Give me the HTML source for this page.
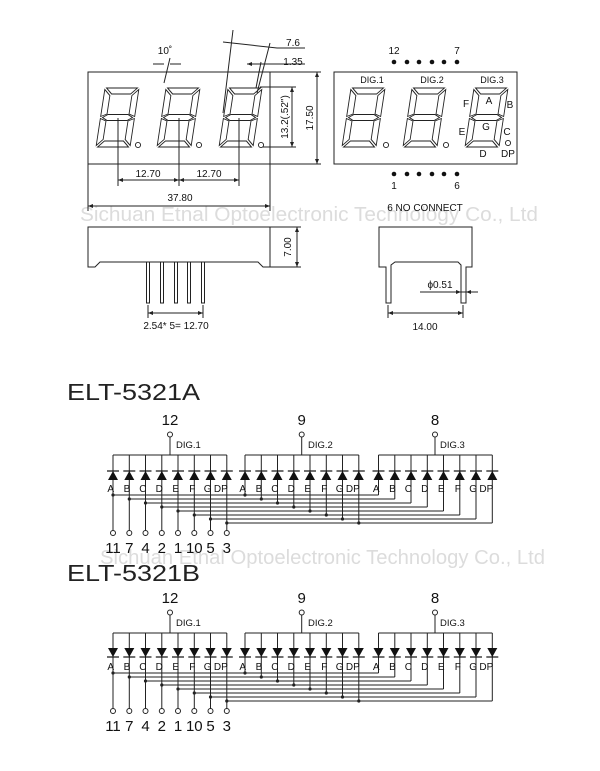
<!DOCTYPE html>
<html><head><meta charset="utf-8"><style>
html,body{margin:0;padding:0;background:#fff;}
svg{display:block;font-family:"Liberation Sans",sans-serif;}
</style></head><body>
<svg width="600" height="771" viewBox="0 0 600 771" xmlns="http://www.w3.org/2000/svg">
<defs>
<g id="dig" fill="none" stroke="#222" stroke-width="0.9">
<polygon points="1.5,-59 32.5,-59 26.5,-53 7.5,-53"/>
<polygon points="1.5,0 32.5,0 26.5,-6 7.5,-6"/>
<polygon points="2,-29.5 7,-32.5 27,-32.5 32,-29.5 27,-26.5 7,-26.5"/>
<polygon points="0,-57.5 6,-51.5 6,-33 0,-30.5"/>
<polygon points="0,-28.5 6,-26 6,-7.5 0,-1.5"/>
<polygon points="34,-57.5 34,-30.5 28,-33 28,-51.5"/>
<polygon points="34,-28.5 34,-1.5 28,-7.5 28,-26"/>
</g>
<g id="dA"><path d="M-5 480L5 480L0 471Z" fill="#111"/><path d="M-6 471H6" stroke="#111" stroke-width="1.2"/></g>
<g id="dB"><path d="M-5 470L5 470L0 479Z" fill="#111"/><path d="M-6 479H6" stroke="#111" stroke-width="1.2"/></g>
<g id="wires" fill="none" stroke="#222" stroke-width="1">
<path d="M113 455V530.5M129.3 455V530.5M145.5 455V530.5M161.8 455V530.5M178 455V530.5M194.3 455V530.5M210.5 455V530.5M226.8 455V530.5"/>
<path d="M245 455V495M261.3 455V499M277.5 455V503M293.8 455V507M310 455V511M326.3 455V515M342.5 455V519M358.8 455V523"/>
<path d="M378.5 455V495M394.8 455V499M411 455V503M427.3 455V507M443.5 455V511M459.8 455V515M476 455V519M492.3 455V523"/>
<path d="M113 495H378.5M129.3 499H394.8M145.5 503H411M161.8 507H427.3M178 511H443.5M194.3 515H459.8M210.5 519H476M226.8 523H492.3"/>
<path d="M113 455H226.8M245 455H358.8M378.5 455H492.3M170 437V455M301.7 437V455M435 437V455"/>
<g fill="#fff"><circle cx="170" cy="434.5" r="2.5"/><circle cx="301.7" cy="434.5" r="2.5"/><circle cx="435" cy="434.5" r="2.5"/>
<circle cx="113" cy="533" r="2.5"/><circle cx="129.3" cy="533" r="2.5"/><circle cx="145.5" cy="533" r="2.5"/><circle cx="161.8" cy="533" r="2.5"/><circle cx="178" cy="533" r="2.5"/><circle cx="194.3" cy="533" r="2.5"/><circle cx="210.5" cy="533" r="2.5"/><circle cx="226.8" cy="533" r="2.5"/></g>
<g fill="#222" stroke="none"><circle cx="113" cy="495" r="1.6"/><circle cx="129.3" cy="499" r="1.6"/><circle cx="145.5" cy="503" r="1.6"/><circle cx="161.8" cy="507" r="1.6"/><circle cx="178" cy="511" r="1.6"/><circle cx="194.3" cy="515" r="1.6"/><circle cx="210.5" cy="519" r="1.6"/><circle cx="226.8" cy="523" r="1.6"/>
<circle cx="245" cy="495" r="1.6"/><circle cx="261.3" cy="499" r="1.6"/><circle cx="277.5" cy="503" r="1.6"/><circle cx="293.8" cy="507" r="1.6"/><circle cx="310" cy="511" r="1.6"/><circle cx="326.3" cy="515" r="1.6"/><circle cx="342.5" cy="519" r="1.6"/><circle cx="358.8" cy="523" r="1.6"/></g>
</g>
</defs>

<!-- watermarks -->
<text x="80" y="221" font-size="20" fill="#dcdcdc" textLength="458" lengthAdjust="spacingAndGlyphs">Sichuan Etnal Optoelectronic Technology Co., Ltd</text>
<text x="100" y="564" font-size="20" fill="#dcdcdc" textLength="445" lengthAdjust="spacingAndGlyphs">Sichuan Etnal Optoelectronic Technology Co., Ltd</text>

<g fill="none" stroke="#222" stroke-width="1">
<rect x="88" y="72" width="182" height="92"/>
<path d="M118 118V186M179 118V186M239 118V186M118 180H239M88 164V211M270 164V211M88 206H270"/>
<path d="M260 87H296M260 147H296M292 87V147M270 72H321M270 164H321M317 72V164"/>
<path d="M233 30L223 113M270 43L257 93M261 62L256 88M223 42L277 48H305M247 64H305M170 58L164 83M153 64L164 64M170 64L181 64"/>
</g>
<g fill="#222">
<path d="M118 180l5-2v4zM179 180l-5-2v4zM179 180l5-2v4zM239 180l-5-2v4zM88 206l5-2v4zM270 206l-5-2v4zM292 87l-2 5h4zM292 147l-2-5h4zM317 72l-2 5h4zM317 164l-2-5h4zM247 64l5-2v4z"/>
</g>
<use href="#dig" transform="translate(96,147) skewX(-8.7)"/>
<use href="#dig" transform="translate(157,147) skewX(-8.7)"/>
<use href="#dig" transform="translate(219,147) skewX(-8.7)"/>
<g fill="#fff" stroke="#222" stroke-width="0.9"><circle cx="138" cy="145" r="2.6"/><circle cx="199" cy="145" r="2.6"/><circle cx="261" cy="145" r="2.6"/></g>
<g font-size="10" fill="#111">
<text x="165" y="54" text-anchor="middle">10˚</text>
<text x="293" y="46" text-anchor="middle">7.6</text>
<text x="293" y="65" text-anchor="middle">1.35</text>
<text x="148" y="177" text-anchor="middle">12.70</text>
<text x="209" y="177" text-anchor="middle">12.70</text>
<text x="180" y="201" text-anchor="middle">37.80</text>
<text transform="translate(288,117) rotate(-90)" text-anchor="middle">13.2(.52")</text>
<text transform="translate(313,118) rotate(-90)" text-anchor="middle">17.50</text>
<text transform="translate(291,247) rotate(-90)" text-anchor="middle">7.00</text>
<text x="176" y="329" text-anchor="middle">2.54* 5= 12.70</text>
</g>
<g fill="none" stroke="#222" stroke-width="1">
<polygon points="88,227 270,227 270,267 263,267 258,262 100,262 95,267 88,267"/>
<path d="M270 227H301M270 267H301M297 227V267"/>
<path d="M146.5 262V303H149.5V262M160.5 262V303H163.5V262M174.5 262V303H177.5V262M187.5 262V303H190.5V262M201.5 262V303H204.5V262"/>
<path d="M148 305V318M203 305V318M148 313H203"/>
</g>
<g fill="#222"><path d="M297 227l-2 5h4zM297 267l-2-5h4zM148 313l5-2v4zM203 313l-5-2v4z"/></g>

<rect x="334" y="72" width="183" height="92" fill="none" stroke="#222" stroke-width="1"/>
<use href="#dig" transform="translate(342,147) skewX(-8.7)"/>
<use href="#dig" transform="translate(403,147) skewX(-8.7)"/>
<use href="#dig" transform="translate(465,147) skewX(-8.7)"/>
<g fill="#fff" stroke="#222" stroke-width="0.9"><circle cx="386" cy="145" r="2.6"/><circle cx="446" cy="145" r="2.6"/><circle cx="508" cy="143" r="2.6"/></g>
<g fill="#111"><circle cx="394" cy="62" r="2.3"/><circle cx="407" cy="62" r="2.3"/><circle cx="419" cy="62" r="2.3"/><circle cx="432" cy="62" r="2.3"/><circle cx="444" cy="62" r="2.3"/><circle cx="457" cy="62" r="2.3"/>
<circle cx="394" cy="174" r="2.3"/><circle cx="407" cy="174" r="2.3"/><circle cx="419" cy="174" r="2.3"/><circle cx="432" cy="174" r="2.3"/><circle cx="444" cy="174" r="2.3"/><circle cx="457" cy="174" r="2.3"/></g>
<g font-size="10" fill="#111" text-anchor="middle">
<text x="394" y="54">12</text><text x="457" y="54">7</text>
<text x="394" y="189">1</text><text x="457" y="189">6</text>
<text x="372" y="83" font-size="9">DIG.1</text><text x="432" y="83" font-size="9">DIG.2</text><text x="492" y="83" font-size="9">DIG.3</text>
<text x="489" y="104">A</text><text x="510" y="108">B</text><text x="466" y="107">F</text><text x="486" y="130">G</text>
<text x="462" y="135">E</text><text x="507" y="135">C</text><text x="483" y="157">D</text><text x="508" y="157">DP</text>
<text x="425" y="211">6 NO CONNECT</text>
<text x="425" y="330">14.00</text>
<text x="440" y="288">ϕ0.51</text>
</g>
<g fill="none" stroke="#222" stroke-width="1">
<polygon points="379,227 472,227 472,267 466,267 466,303 461,303 461,265 458,262 395,262 391,265 391,303 386,303 386,267 379,267"/>
<path d="M388 305V318M463 305V318M388 313H463M420 292H478"/>
</g>
<g fill="#222"><path d="M388 313l5-2v4zM463 313l-5-2v4zM461 292l-5-2v4zM466 292l5-2v4z"/></g>

<text x="67" y="400" font-size="23" fill="#222" textLength="133" lengthAdjust="spacingAndGlyphs">ELT-5321A</text>
<use href="#wires"/>
<g>
<use href="#dA" x="113"/><use href="#dA" x="129.3"/><use href="#dA" x="145.5"/><use href="#dA" x="161.8"/><use href="#dA" x="178"/><use href="#dA" x="194.3"/><use href="#dA" x="210.5"/><use href="#dA" x="226.8"/>
<use href="#dA" x="245"/><use href="#dA" x="261.3"/><use href="#dA" x="277.5"/><use href="#dA" x="293.8"/><use href="#dA" x="310"/><use href="#dA" x="326.3"/><use href="#dA" x="342.5"/><use href="#dA" x="358.8"/>
<use href="#dA" x="378.5"/><use href="#dA" x="394.8"/><use href="#dA" x="411"/><use href="#dA" x="427.3"/><use href="#dA" x="443.5"/><use href="#dA" x="459.8"/><use href="#dA" x="476"/><use href="#dA" x="492.3"/>
</g>
<g font-size="10" fill="#111" text-anchor="end">
<text x="114" y="492">A</text><text x="130.3" y="492">B</text><text x="146.5" y="492">C</text><text x="162.8" y="492">D</text><text x="179" y="492">E</text><text x="195.3" y="492">F</text><text x="211.5" y="492">G</text><text x="227.8" y="492">DP</text>
<text x="246" y="492">A</text><text x="262.3" y="492">B</text><text x="278.5" y="492">C</text><text x="294.8" y="492">D</text><text x="311" y="492">E</text><text x="327.3" y="492">F</text><text x="343.5" y="492">G</text><text x="359.8" y="492">DP</text>
<text x="379.5" y="492">A</text><text x="395.8" y="492">B</text><text x="412" y="492">C</text><text x="428.3" y="492">D</text><text x="444.5" y="492">E</text><text x="460.8" y="492">F</text><text x="477" y="492">G</text><text x="493.3" y="492">DP</text>
</g>
<g font-size="15" fill="#111" text-anchor="middle">
<text x="170" y="425">12</text><text x="301.7" y="425">9</text><text x="435" y="425">8</text>
<text x="113" y="553">11</text><text x="129.3" y="553">7</text><text x="145.5" y="553">4</text><text x="161.8" y="553">2</text><text x="178" y="553">1</text><text x="194.3" y="553">10</text><text x="210.5" y="553">5</text><text x="226.8" y="553">3</text>
</g>
<g font-size="9.5" fill="#111"><text x="176" y="448">DIG.1</text><text x="308" y="448">DIG.2</text><text x="440" y="448">DIG.3</text></g>

<text x="67" y="581" font-size="23" fill="#222" textLength="133" lengthAdjust="spacingAndGlyphs">ELT-5321B</text>
<g transform="translate(0,178)">
<use href="#wires"/>
<use href="#dB" x="113"/><use href="#dB" x="129.3"/><use href="#dB" x="145.5"/><use href="#dB" x="161.8"/><use href="#dB" x="178"/><use href="#dB" x="194.3"/><use href="#dB" x="210.5"/><use href="#dB" x="226.8"/>
<use href="#dB" x="245"/><use href="#dB" x="261.3"/><use href="#dB" x="277.5"/><use href="#dB" x="293.8"/><use href="#dB" x="310"/><use href="#dB" x="326.3"/><use href="#dB" x="342.5"/><use href="#dB" x="358.8"/>
<use href="#dB" x="378.5"/><use href="#dB" x="394.8"/><use href="#dB" x="411"/><use href="#dB" x="427.3"/><use href="#dB" x="443.5"/><use href="#dB" x="459.8"/><use href="#dB" x="476"/><use href="#dB" x="492.3"/>
<g font-size="10" fill="#111" text-anchor="end">
<text x="114" y="492">A</text><text x="130.3" y="492">B</text><text x="146.5" y="492">C</text><text x="162.8" y="492">D</text><text x="179" y="492">E</text><text x="195.3" y="492">F</text><text x="211.5" y="492">G</text><text x="227.8" y="492">DP</text>
<text x="246" y="492">A</text><text x="262.3" y="492">B</text><text x="278.5" y="492">C</text><text x="294.8" y="492">D</text><text x="311" y="492">E</text><text x="327.3" y="492">F</text><text x="343.5" y="492">G</text><text x="359.8" y="492">DP</text>
<text x="379.5" y="492">A</text><text x="395.8" y="492">B</text><text x="412" y="492">C</text><text x="428.3" y="492">D</text><text x="444.5" y="492">E</text><text x="460.8" y="492">F</text><text x="477" y="492">G</text><text x="493.3" y="492">DP</text>
</g>
<g font-size="15" fill="#111" text-anchor="middle">
<text x="170" y="425">12</text><text x="301.7" y="425">9</text><text x="435" y="425">8</text>
<text x="113" y="553">11</text><text x="129.3" y="553">7</text><text x="145.5" y="553">4</text><text x="161.8" y="553">2</text><text x="178" y="553">1</text><text x="194.3" y="553">10</text><text x="210.5" y="553">5</text><text x="226.8" y="553">3</text>
</g>
<g font-size="9.5" fill="#111"><text x="176" y="448">DIG.1</text><text x="308" y="448">DIG.2</text><text x="440" y="448">DIG.3</text></g>
</g>
</svg>
</body></html>
